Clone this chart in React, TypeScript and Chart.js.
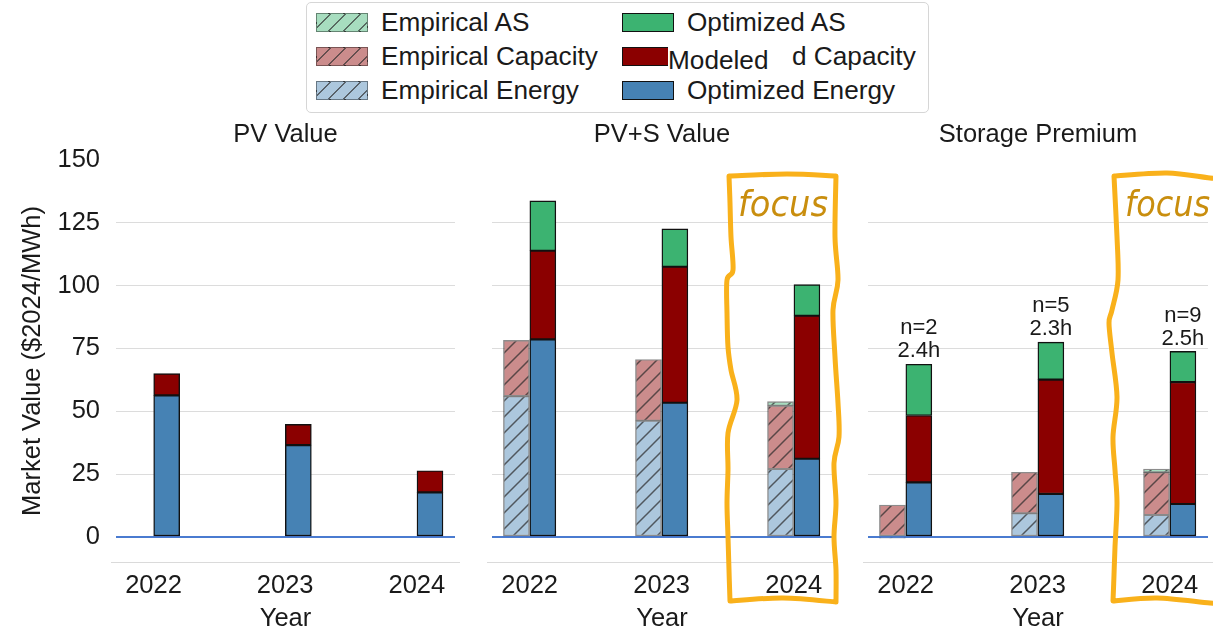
import React, { useEffect, useRef } from 'react';
import { Chart, registerables } from 'chart.js';

Chart.register(...registerables);

const FONT = "'Liberation Sans', Arial, sans-serif";
const TEXT = '#1a1a1a';

// ---- data ----
const years = ['2022', '2023', '2024'];
const yTicks = [0, 25, 50, 75, 100, 125, 150];

// PV Value (optimized only)
const pvOptEnergy = [56.3, 36.5, 17.7];
const pvOptCapacity = [8.7, 8.3, 8.6];

// PV+S Value
const pvsEmpEnergy = [56.0, 46.2, 27.0];
const pvsEmpCapacity = [22.2, 24.4, 25.2];
const pvsEmpAS = [null, null, 1.6];
const pvsOptEnergy = [78.6, 53.4, 31.1];
const pvsOptCapacity = [35.3, 54.1, 56.9];
const pvsOptAS = [19.8, 15.1, 12.4];

// Storage Premium
const spEmpEnergy = [-0.5, 9.4, 8.7];
const spEmpCapacity = [12.7, 16.3, 17.0];
const spEmpAS = [null, null, 1.3];
const spOptEnergy = [21.7, 17.1, 13.1];
const spOptCapacity = [26.6, 45.5, 48.5];
const spOptAS = [20.4, 14.9, 12.2];
const spCounts = [2, 5, 9];
const spDurations = [2.4, 2.3, 2.5];

// ---- styles ----
const ENERGY = '#4682b4';
const CAPACITY = '#8b0000';
const AS = '#3cb371';
const ENERGY_LIGHT = 'rgb(172,199,221)';
const CAPACITY_LIGHT = 'rgb(203,140,140)';
const AS_LIGHT = 'rgb(167,221,191)';
const ORANGE = '#f9b11b';
const FOCUS_TEXT = '#c98e0e';

const OFF = 0.1;

function hatch(fill: string): CanvasPattern | string {
  const s = 16;
  const c = document.createElement('canvas');
  c.width = s;
  c.height = s;
  const g = c.getContext('2d');
  if (!g) return fill;
  g.fillStyle = fill;
  g.fillRect(0, 0, s, s);
  g.strokeStyle = 'rgba(45,45,45,0.72)';
  g.lineWidth = 1.5;
  g.beginPath();
  g.moveTo(-2, s + 2);
  g.lineTo(s + 2, -2);
  g.moveTo(-2, 2);
  g.lineTo(2, -2);
  g.moveTo(s - 2, s + 2);
  g.lineTo(s + 2, s - 2);
  g.stroke();
  return g.createPattern(c, 'repeat') || fill;
}

function ds(label: string, values: (number | null)[], x0: number, color: any, stack: string, empirical: boolean) {
  return {
    label,
    stack,
    grouped: false,
    barThickness: 26,
    data: values.map((v, i) => ({ x: i + x0, y: v })),
    backgroundColor: empirical ? hatch(color) : color,
    borderColor: empirical ? 'rgba(0,0,0,0.45)' : '#111',
    borderWidth: 1.4,
    borderSkipped: false,
  };
}

const bottomLine = {
  id: 'bottomLine',
  afterDraw(chart: any) {
    const { ctx, chartArea: a } = chart;
    ctx.save();
    ctx.strokeStyle = '#dadada';
    ctx.lineWidth = 1.2;
    ctx.beginPath();
    ctx.moveTo(a.left - 5, a.bottom + 0.5);
    ctx.lineTo(a.right + 5, a.bottom + 0.5);
    ctx.stroke();
    ctx.restore();
  },
};

const spLabels = {
  id: 'spLabels',
  afterDatasetsDraw(chart: any) {
    const { ctx } = chart;
    const xs = chart.scales.x;
    const ys = chart.scales.y;
    ctx.save();
    ctx.font = `22px ${FONT}`;
    ctx.fillStyle = TEXT;
    ctx.textAlign = 'center';
    ctx.textBaseline = 'middle';
    years.forEach((_, i) => {
      const total = spOptEnergy[i] + spOptCapacity[i] + spOptAS[i];
      const x = xs.getPixelForValue(i + OFF);
      const y = ys.getPixelForValue(total);
      ctx.fillText(`n=${spCounts[i]}`, x, y - 36);
      ctx.fillText(`${spDurations[i].toFixed(1)}h`, x, y - 13);
    });
    ctx.restore();
  },
};

function makeConfig(title: string, showY: boolean, yWidth: number, rightPad: number, datasets: any[], plugins: any[]): any {
  return {
    type: 'bar',
    data: { datasets },
    plugins: [bottomLine, ...plugins],
    options: {
      responsive: false,
      animation: false,
      devicePixelRatio: 1,
      layout: { padding: { left: 0, right: rightPad, top: 0, bottom: 0 } },
      plugins: {
        legend: { display: false },
        tooltip: { enabled: false },
        title: {
          display: true,
          text: title,
          fullSize: false,
          color: TEXT,
          font: { size: 25.5, weight: 'normal', family: FONT },
          padding: { top: 4.7, bottom: 9.7 },
        },
      },
      scales: {
        x: {
          type: 'linear',
          min: -0.285,
          max: 2.29,
          offset: false,
          stacked: false,
          grid: { display: false, drawTicks: false },
          border: { display: false },
          afterBuildTicks: (s: any) => {
            s.ticks = years.map((_, i) => ({ value: i }));
          },
          ticks: {
            autoSkip: false,
            maxRotation: 0,
            padding: 9,
            color: TEXT,
            font: { size: 25.5, family: FONT },
            callback: (_v: any, i: number) => years[i],
          },
          title: {
            display: true,
            text: 'Year',
            color: TEXT,
            font: { size: 25.5, family: FONT },
            padding: { top: 0, bottom: 0 },
          },
          afterFit: (s: any) => {
            s.height = 72;
          },
        },
        y: {
          type: 'linear',
          min: -10,
          max: 150,
          stacked: true,
          afterBuildTicks: (s: any) => {
            s.ticks = yTicks.map((v) => ({ value: v }));
          },
          grid: {
            drawTicks: false,
            color: (c: any) =>
              c.tick && c.tick.value === 0 ? '#4a7bd0' : c.tick && c.tick.value === 150 ? 'rgba(0,0,0,0)' : '#dcdcdc',
            lineWidth: (c: any) => (c.tick && c.tick.value === 0 ? 2 : 1.1),
          },
          border: { display: false },
          ticks: {
            display: showY,
            padding: 16,
            color: TEXT,
            font: { size: 25.5, family: FONT },
          },
          title: {
            display: showY,
            text: 'Market Value ($2024/MWh)',
            color: TEXT,
            font: { size: 25.5, family: FONT },
            padding: { top: 18, bottom: 0 },
          },
          afterFit: (s: any) => {
            s.width = yWidth;
          },
        },
      },
    },
  };
}

type P = [number, number];
// smooth curve through each edge separately, keeping the corners sharp
function wavyPath(edges: P[][]): string {
  let d = `M${edges[0][0][0]},${edges[0][0][1]}`;
  edges.forEach((pts) => {
    for (let i = 0; i < pts.length - 1; i++) {
      const p0 = pts[i - 1] || pts[i];
      const p1 = pts[i];
      const p2 = pts[i + 1];
      const p3 = pts[i + 2] || p2;
      const c1x = p1[0] + (p2[0] - p0[0]) / 6;
      const c1y = p1[1] + (p2[1] - p0[1]) / 6;
      const c2x = p2[0] - (p3[0] - p1[0]) / 6;
      const c2y = p2[1] - (p3[1] - p1[1]) / 6;
      d += ` C${c1x.toFixed(1)},${c1y.toFixed(1)} ${c2x.toFixed(1)},${c2y.toFixed(1)} ${p2[0]},${p2[1]}`;
    }
  });
  return d;
}

const box2: P[][] = [
  [[729, 176], [787, 174], [836, 176]],
  [[836, 176], [835, 237], [838, 280], [833, 310], [835, 357], [838, 403], [839, 437], [834, 463], [836, 503], [834, 537], [836, 570], [836, 602]],
  [[836, 602], [783, 598], [730, 601]],
  [[730, 601], [729, 570], [728, 537], [727, 503], [728, 470], [728, 433], [737, 400], [731, 370], [728, 347], [727, 313], [727, 280], [733, 270], [731, 237], [730, 203], [729, 176]],
];

const box3: P[][] = [
  [[1222, 178], [1210, 178], [1167, 173], [1114, 176]],
  [[1114, 176], [1117, 237], [1118, 280], [1112, 310], [1109, 323], [1112, 353], [1117, 397], [1113, 437], [1115, 470], [1117, 503], [1115, 547], [1114, 575], [1113, 601]],
  [[1113, 601], [1157, 598], [1210, 603], [1222, 603]],
];

type LegendItem = { label: string; fill: string; empirical: boolean; col: number; row: number };
const legendItems: LegendItem[] = [
  { label: 'Empirical AS', fill: AS_LIGHT, empirical: true, col: 0, row: 0 },
  { label: 'Empirical Capacity', fill: CAPACITY_LIGHT, empirical: true, col: 0, row: 1 },
  { label: 'Empirical Energy', fill: ENERGY_LIGHT, empirical: true, col: 0, row: 2 },
  { label: 'Optimized AS', fill: AS, empirical: false, col: 1, row: 0 },
  { label: '', fill: CAPACITY, empirical: false, col: 1, row: 1 },
  { label: 'Optimized Energy', fill: ENERGY, empirical: false, col: 1, row: 2 },
];

const rowY = [22, 56, 90];
const swatchX = [316, 622];
const textX = [381, 687];
const LEG_FONT = 26.2;

function Legend() {
  return (
    <div>
      <div
        style={{
          position: 'absolute',
          left: 306,
          top: 2,
          width: 621,
          height: 109,
          border: '1.3px solid #d6d6d6',
          borderRadius: 5,
          background: '#fff',
        }}
      />
      {legendItems.map((it, k) => (
        <React.Fragment key={k}>
          <div
            style={{
              position: 'absolute',
              left: swatchX[it.col],
              top: rowY[it.row] - 9.5,
              width: 52,
              height: 19,
              boxSizing: 'border-box',
              border: it.empirical ? '1.3px solid rgba(0,0,0,0.4)' : '1.5px solid #111',
              background: it.empirical
                ? `repeating-linear-gradient(135deg, transparent 0px, transparent 9px, rgba(45,45,45,0.65) 9px, rgba(45,45,45,0.65) 10.5px), ${it.fill}`
                : it.fill,
            }}
          />
          {it.label ? (
            <div
              style={{
                position: 'absolute',
                left: textX[it.col],
                top: rowY[it.row] - 15,
                height: 30,
                lineHeight: '30px',
                fontSize: LEG_FONT,
                whiteSpace: 'nowrap',
                color: TEXT,
              }}
            >
              {it.label}
            </div>
          ) : null}
        </React.Fragment>
      ))}
      <div
        style={{
          position: 'absolute',
          left: 792,
          top: rowY[1] - 15,
          height: 30,
          lineHeight: '30px',
          fontSize: LEG_FONT,
          whiteSpace: 'nowrap',
          color: TEXT,
        }}
      >
        d Capacity
      </div>
      <div
        style={{
          position: 'absolute',
          left: 668,
          top: rowY[1] - 11,
          height: 30,
          lineHeight: '30px',
          fontSize: LEG_FONT,
          whiteSpace: 'nowrap',
          color: TEXT,
          background: '#fff',
          paddingRight: 2,
        }}
      >
        Modeled
      </div>
    </div>
  );
}

export default function App() {
  const c1 = useRef<HTMLCanvasElement>(null);
  const c2 = useRef<HTMLCanvasElement>(null);
  const c3 = useRef<HTMLCanvasElement>(null);

  useEffect(() => {
    Chart.defaults.font.family = FONT;
    Chart.defaults.color = TEXT;
    const charts: Chart[] = [];
    if (c1.current) {
      charts.push(
        new Chart(
          c1.current,
          makeConfig('PV Value', true, 116, 15, [
            ds('Optimized Energy', pvOptEnergy, OFF, ENERGY, 'opt', false),
            ds('Optimized Capacity', pvOptCapacity, OFF, CAPACITY, 'opt', false),
          ], [])
        )
      );
    }
    if (c2.current) {
      charts.push(
        new Chart(
          c2.current,
          makeConfig('PV+S Value', false, 22, 18, [
            ds('Empirical Energy', pvsEmpEnergy, -OFF, ENERGY_LIGHT, 'emp', true),
            ds('Empirical Capacity', pvsEmpCapacity, -OFF, CAPACITY_LIGHT, 'emp', true),
            ds('Empirical AS', pvsEmpAS, -OFF, AS_LIGHT, 'emp', true),
            ds('Optimized Energy', pvsOptEnergy, OFF, ENERGY, 'opt', false),
            ds('Optimized Capacity', pvsOptCapacity, OFF, CAPACITY, 'opt', false),
            ds('Optimized AS', pvsOptAS, OFF, AS, 'opt', false),
          ], [])
        )
      );
    }
    if (c3.current) {
      charts.push(
        new Chart(
          c3.current,
          makeConfig('Storage Premium', false, 18, 5, [
            ds('Empirical Energy', spEmpEnergy, -OFF, ENERGY_LIGHT, 'emp', true),
            ds('Empirical Capacity', spEmpCapacity, -OFF, CAPACITY_LIGHT, 'emp', true),
            ds('Empirical AS', spEmpAS, -OFF, AS_LIGHT, 'emp', true),
            ds('Optimized Energy', spOptEnergy, OFF, ENERGY, 'opt', false),
            ds('Optimized Capacity', spOptCapacity, OFF, CAPACITY, 'opt', false),
            ds('Optimized AS', spOptAS, OFF, AS, 'opt', false),
          ], [spLabels])
        )
      );
    }
    return () => charts.forEach((c) => c.destroy());
  }, []);

  const canvasStyle = (left: number): React.CSSProperties => ({ position: 'absolute', left, top: 115, display: 'block' });

  return (
    <div
      style={{
        position: 'absolute',
        left: 0,
        top: 0,
        width: 1213,
        height: 631,
        overflow: 'hidden',
        background: '#fff',
        fontFamily: FONT,
      }}
    >
      <canvas ref={c1} width={470} height={519} style={canvasStyle(0)} />
      <canvas ref={c2} width={380} height={519} style={canvasStyle(470)} />
      <canvas ref={c3} width={363} height={519} style={canvasStyle(850)} />
      <Legend />
      <svg
        width={1213}
        height={631}
        style={{ position: 'absolute', left: 0, top: 0, pointerEvents: 'none' }}
      >
        <path d={wavyPath(box2)} fill="none" stroke={ORANGE} strokeWidth={5} strokeLinejoin="round" strokeLinecap="round" />
        <path d={wavyPath(box3)} fill="none" stroke={ORANGE} strokeWidth={5} strokeLinejoin="round" strokeLinecap="round" />
        <text
          x={738}
          y={216}
          fontSize={36}
          fontStyle="italic"
          fontFamily="'DejaVu Sans', sans-serif"
          fill={FOCUS_TEXT}
          textLength={90}
          lengthAdjust="spacingAndGlyphs"
        >
          focus
        </text>
        <text
          x={1125}
          y={216}
          fontSize={36}
          fontStyle="italic"
          fontFamily="'DejaVu Sans', sans-serif"
          fill={FOCUS_TEXT}
          textLength={85}
          lengthAdjust="spacingAndGlyphs"
        >
          focus
        </text>
      </svg>
    </div>
  );
}
